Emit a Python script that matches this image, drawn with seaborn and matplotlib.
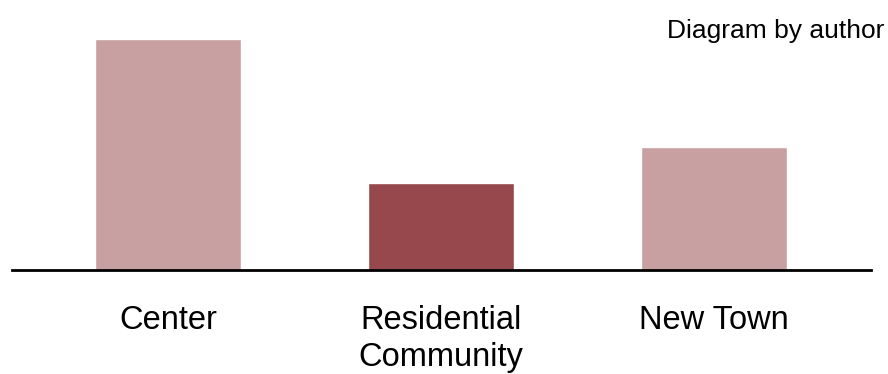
import matplotlib
matplotlib.use("Agg")
import matplotlib.pyplot as plt
import seaborn as sns
import pandas as pd

categories = ["Center", "Residential\nCommunity", "New Town"]
values = [231, 87, 123]
colors = ["#C9A0A1", "#96484C", "#C9A0A1"]

sns.set_theme(style="white")
plt.rcParams["font.family"] = ["Liberation Sans", "DejaVu Sans"]

df = pd.DataFrame({"cat": categories, "val": values})

fig = plt.figure(figsize=(8.88, 3.74), dpi=100)
ax = fig.add_axes([12 / 888, 104 / 374, 859 / 888, 250 / 374])
sns.barplot(data=df, x="cat", y="val", hue="cat", palette=colors,
            width=0.535, legend=False, ax=ax, saturation=1)

ax.set_xlim(-0.571, 2.575)
ax.set_ylim(0, 250)
for s in ["top", "right", "left"]:
    ax.spines[s].set_visible(False)
ax.spines["bottom"].set_color("black")
ax.spines["bottom"].set_linewidth(2)
ax.set_yticks([])
ax.set_xlabel("")
ax.set_ylabel("")
ax.tick_params(axis="x", length=0, pad=25, labelsize=23.5, labelcolor="black")
for lbl in ax.get_xticklabels():
    lbl.set_linespacing(1.25)

fig.text(884 / 888, 1 - 38 / 374, "Diagram by author", ha="right",
         va="baseline", fontsize=19, color="black")

fig.savefig("out.png", dpi=100)
